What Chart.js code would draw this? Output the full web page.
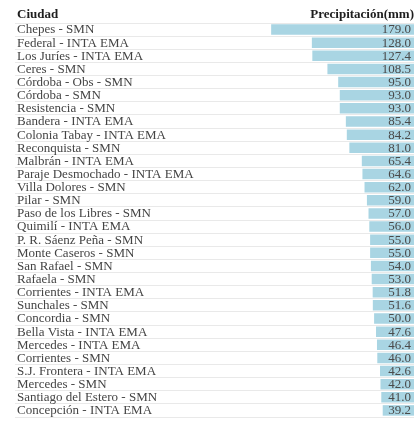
<!DOCTYPE html>
<html>
<head>
<meta charset="utf-8">
<script src="https://cdn.jsdelivr.net/npm/chart.js@4/dist/chart.umd.min.js"></script>
<style>
  html, body { margin: 0; padding: 0; background: #ffffff; }
  #wrap { width: 420px; height: 428px; position: relative; }
</style>
</head>
<body>
<div id="wrap"><canvas id="c" width="420" height="428"></canvas></div>
<script>
const cities = [
  "Chepes - SMN",
  "Federal - INTA EMA",
  "Los Juríes - INTA EMA",
  "Ceres - SMN",
  "Córdoba - Obs - SMN",
  "Córdoba - SMN",
  "Resistencia - SMN",
  "Bandera - INTA EMA",
  "Colonia Tabay - INTA EMA",
  "Reconquista - SMN",
  "Malbrán - INTA EMA",
  "Paraje Desmochado - INTA EMA",
  "Villa Dolores - SMN",
  "Pilar - SMN",
  "Paso de los Libres - SMN",
  "Quimilí - INTA EMA",
  "P. R. Sáenz Peña - SMN",
  "Monte Caseros - SMN",
  "San Rafael - SMN",
  "Rafaela - SMN",
  "Corrientes - INTA EMA",
  "Sunchales - SMN",
  "Concordia - SMN",
  "Bella Vista - INTA EMA",
  "Mercedes - INTA EMA",
  "Corrientes - SMN",
  "S.J. Frontera - INTA EMA",
  "Mercedes - SMN",
  "Santiago del Estero - SMN",
  "Concepción - INTA EMA"
];
const precipitation = [
  179.0, 128.0, 127.4, 108.5, 95.0, 93.0, 93.0, 85.4, 84.2, 81.0,
  65.4, 64.6, 62.0, 59.0, 57.0, 56.0, 55.0, 55.0, 54.0, 53.0,
  51.8, 51.6, 50.0, 47.6, 46.4, 46.0, 42.6, 42.0, 41.0, 39.2
];
const headerCity = "Ciudad";
const headerValue = "Precipitación(mm)";

const FONT = '"Liberation Serif", "DejaVu Serif", serif';

const tablePlugin = {
  id: 'tableText',
  afterDatasetsDraw(chart) {
    const ctx = chart.ctx;
    const y = chart.scales.y;
    const x = chart.scales.x;
    const area = chart.chartArea;
    const right = x.getPixelForValue(0);
    ctx.save();
    ctx.textBaseline = 'middle';
    // header
    ctx.fillStyle = '#1e1e1e';
    ctx.font = 'bold 13px ' + FONT;
    ctx.textAlign = 'left';
    ctx.fillText(headerCity, area.left + 2, 15);
    ctx.textAlign = 'right';
    ctx.fillText(headerValue, right, 15);
    // rows
    ctx.font = '13px ' + FONT;
    cities.forEach((name, i) => {
      const py = y.getPixelForValue(i);
      ctx.fillStyle = '#444444';
      ctx.textAlign = 'left';
      ctx.fillText(name, area.left + 2, py + 0.5);
      ctx.fillStyle = '#4a4a4a';
      ctx.textAlign = 'right';
      ctx.fillText(precipitation[i].toFixed(1), right - 3, py + 0.5);
    });
    ctx.restore();
  }
};

new Chart(document.getElementById('c'), {
  type: 'bar',
  data: {
    labels: cities,
    datasets: [{
      data: precipitation,
      backgroundColor: '#a9d5e3',
      borderWidth: 0,
      barPercentage: 0.8,
      categoryPercentage: 1.0
    }]
  },
  options: {
    indexAxis: 'y',
    responsive: false,
    animation: false,
    layout: { padding: { left: 15, right: 6, top: 23, bottom: 11 } },
    plugins: { legend: { display: false }, tooltip: { enabled: false } },
    scales: {
      x: {
        reverse: true,
        min: 0,
        max: 500,
        display: false
      },
      y: {
        offset: true,
        border: { display: false },
        ticks: { display: false },
        grid: { offset: true, color: '#e9e9e9', lineWidth: 1, drawTicks: false }
      }
    }
  },
  plugins: [tablePlugin]
});
</script>
</body>
</html>
